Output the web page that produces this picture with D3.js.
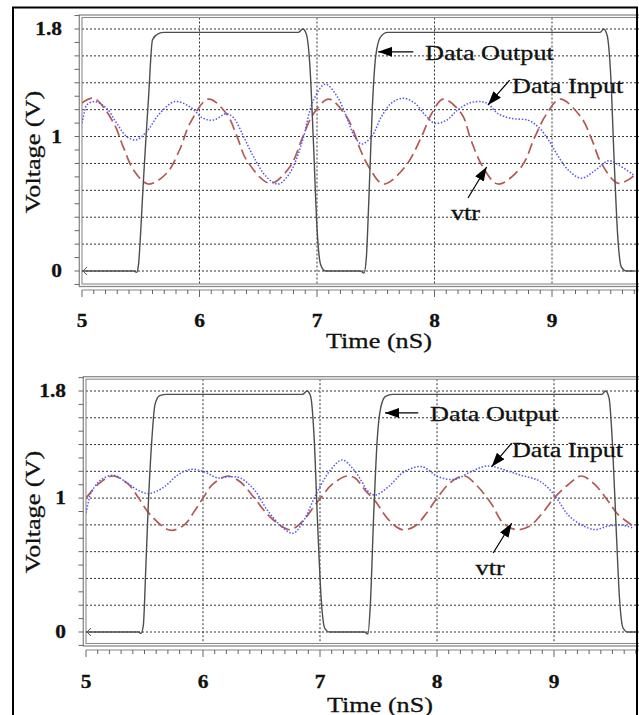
<!DOCTYPE html>
<html>
<head>
<meta charset="utf-8">
<script src="https://cdn.jsdelivr.net/npm/d3@7/dist/d3.min.js"></script>
<style>
  body { margin: 0; background: #fff; }
  svg { display: block; }
  text { font-family: "Liberation Serif", "Times New Roman", serif; fill: #111; stroke: #111; stroke-width: 0.3; }
</style>
</head>
<body>
<div id="chart"></div>
<script>
// tick labels
var timeTicks = [5, 6, 7, 8, 9];
var voltTicks = [0, 1, 1.8];
var timeDomain = [5, 9.7];
var voltDomain = [0, 1.8];

// series: [time (nS), voltage (V)]
// upper panel
var topOutput = [[5.00,0],[5.44,0],[5.465,-0.01],[5.48,0.04],[5.50,0.3],[5.52,0.63],[5.545,1.0],[5.565,1.27],[5.60,1.72],[5.65,1.765],[5.70,1.775],
  [6.84,1.775],[6.88,1.80],[6.91,1.76],[6.94,1.52],[6.97,0.95],[7.00,0.32],[7.03,0.05],[7.07,0],[7.37,0],[7.40,-0.015],
  [7.42,0.1],[7.44,0.5],[7.47,1.2],[7.50,1.6],[7.54,1.74],[7.60,1.775],[9.41,1.775],[9.44,1.80],[9.47,1.75],[9.50,1.45],
  [9.53,0.8],[9.56,0.25],[9.59,0.03],[9.63,0],[9.70,0]];
var topInput = [[5.00,1.10],[5.02,1.18],[5.04,1.235],[5.11,1.26],[5.21,1.21],[5.295,1.10],[5.38,1.0],[5.46,0.975],[5.55,1.036],
  [5.66,1.17],[5.79,1.26],[5.92,1.22],[6.03,1.136],[6.12,1.123],[6.23,1.17],[6.29,1.14],[6.375,1.0],[6.46,0.85],[6.57,0.70],
  [6.67,0.647],[6.77,0.73],[6.87,0.95],[6.97,1.27],[7.07,1.39],[7.17,1.30],[7.25,1.15],[7.32,1.0],[7.38,0.945],[7.465,1.0],
  [7.55,1.15],[7.635,1.25],[7.735,1.285],[7.83,1.25],[7.92,1.16],[8.00,1.10],[8.10,1.12],[8.20,1.20],[8.30,1.25],[8.40,1.26],
  [8.46,1.24],[8.54,1.17],[8.65,1.136],[8.80,1.12],[8.885,1.07],[8.97,0.975],[9.055,0.85],[9.14,0.75],[9.25,0.69],[9.37,0.75],
  [9.48,0.82],[9.565,0.79],[9.70,0.71]];
var topVtr = [[5.00,1.25],[5.10,1.285],[5.27,1.10],[5.35,0.925],[5.44,0.75],[5.565,0.647],[5.72,0.727],[5.83,0.90],[5.92,1.10],
  [6.075,1.278],[6.23,1.17],[6.32,1.0],[6.40,0.826],[6.60,0.652],[6.77,0.776],[6.88,1.0],[6.97,1.17],[7.10,1.278],[7.25,1.15],
  [7.32,1.02],[7.37,0.90],[7.44,0.776],[7.565,0.647],[7.75,0.776],[7.89,1.0],[7.975,1.17],[8.075,1.278],[8.23,1.17],[8.31,0.975],
  [8.41,0.776],[8.54,0.647],[8.74,0.776],[8.855,1.0],[8.955,1.17],[9.07,1.278],[9.25,1.14],[9.34,0.975],[9.42,0.80],[9.565,0.652],
  [9.70,0.71]];

// lower panel
var botOutput = [[5.00,0],[5.45,0],[5.47,-0.01],[5.49,0.05],[5.51,0.45],[5.53,0.9],[5.56,1.4],[5.59,1.7],[5.63,1.765],[5.69,1.775],
  [6.85,1.775],[6.89,1.80],[6.92,1.76],[6.95,1.45],[6.98,0.8],[7.01,0.25],[7.04,0.03],[7.08,0],[7.38,0],[7.41,-0.015],
  [7.43,0.2],[7.46,0.9],[7.49,1.45],[7.52,1.68],[7.56,1.76],[7.62,1.775],[9.41,1.775],[9.44,1.80],[9.47,1.75],[9.50,1.4],
  [9.53,0.8],[9.56,0.25],[9.59,0.03],[9.63,0],[9.70,0]];
var botInput = [[5.00,0.89],[5.02,0.97],[5.04,1.035],[5.125,1.135],[5.24,1.17],[5.355,1.11],[5.47,1.048],[5.55,1.035],[5.67,1.085],
  [5.78,1.17],[5.895,1.215],[6.01,1.197],[6.12,1.152],[6.235,1.16],[6.32,1.15],[6.44,1.06],[6.55,0.91],[6.67,0.79],[6.77,0.737],
  [6.865,0.84],[6.97,1.035],[7.09,1.21],[7.19,1.285],[7.29,1.21],[7.36,1.12],[7.40,1.06],[7.47,1.023],[7.585,1.085],[7.72,1.197],
  [7.87,1.235],[8.01,1.16],[8.15,1.14],[8.29,1.197],[8.43,1.24],[8.58,1.21],[8.72,1.17],[8.86,1.135],[8.94,1.085],[9.03,0.99],
  [9.12,0.875],[9.235,0.80],[9.35,0.765],[9.46,0.79],[9.57,0.80],[9.68,0.775]];
var botVtr = [[5.00,1.0],[5.10,1.10],[5.225,1.165],[5.355,1.11],[5.45,1.0],[5.55,0.875],[5.72,0.76],[5.84,0.80],[5.925,0.90],
  [6.00,1.0],[6.08,1.10],[6.21,1.165],[6.32,1.12],[6.44,1.0],[6.54,0.89],[6.67,0.79],[6.75,0.765],[6.865,0.84],[6.95,0.94],
  [7.005,1.0],[7.10,1.10],[7.23,1.165],[7.30,1.15],[7.385,1.06],[7.47,0.98],[7.585,0.84],[7.70,0.765],[7.81,0.79],[7.91,0.887],
  [8.00,1.0],[8.12,1.12],[8.235,1.165],[8.35,1.085],[8.47,0.95],[8.56,0.82],[8.675,0.765],[8.79,0.79],[8.90,0.887],[9.00,1.0],
  [9.12,1.10],[9.235,1.165],[9.35,1.10],[9.46,0.98],[9.55,0.875],[9.68,0.79]];

// annotations: label, text anchor point, arrow tail, arrow tip (data units)
var topNotes = [
  {label: "Data Output", at: [7.92, 1.57], from: [7.82, 1.63], to: [7.52, 1.63]},
  {label: "Data Input",  at: [8.66, 1.325], from: [8.64, 1.42], to: [8.455, 1.235]},
  {label: "vtr",         at: [8.14, 0.38], from: [8.285, 0.543], to: [8.444, 0.774]}
];
var botNotes = [
  {label: "Data Output", at: [7.94, 1.576], from: [7.84, 1.636], to: [7.556, 1.636]},
  {label: "Data Input",  at: [8.64, 1.31], from: [8.638, 1.41], to: [8.467, 1.235]},
  {label: "vtr",         at: [8.33, 0.426], from: [8.48, 0.59], to: [8.638, 0.812]}
];

var W = 639, H = 715;
var svg = d3.select("#chart").append("svg").attr("width", W).attr("height", H);

var defs = svg.append("defs");
defs.append("marker")
  .attr("id", "head")
  .attr("viewBox", "0 0 14 10")
  .attr("refX", 14).attr("refY", 5)
  .attr("markerWidth", 14).attr("markerHeight", 10)
  .attr("markerUnits", "userSpaceOnUse")
  .attr("orient", "auto")
  .append("path").attr("d", "M0,0L14,5L0,10z").attr("fill", "#000");

//text looks stretched sideways in the source, so widen it a bit
var stretch = 1.19;

function drawPanel(p) {
  var x = d3.scaleLinear().domain(timeDomain).range([p.x0, p.x0 + (timeDomain[1] - timeDomain[0]) * p.pxPerNs]);
  var y = d3.scaleLinear().domain(voltDomain).range([p.yZero, p.yMax]);
  var g = svg.append("g");

  defs.append("clipPath").attr("id", "clip-" + p.id)
    .append("rect").attr("x", p.x0).attr("y", p.frameTop + 2.5)
    .attr("width", W - p.x0).attr("height", p.frameBot - p.frameTop - 5);

  // grid
  var gridV = d3.range(0, 1.81, 0.2);
  g.selectAll(".hgrid").data(gridV).enter().append("line")
    .attr("x1", p.x0).attr("x2", W)
    .attr("y1", function (d) { return y(d); }).attr("y2", function (d) { return y(d); })
    .attr("stroke", "#333").attr("stroke-width", 1).attr("stroke-dasharray", "2,2");
  g.selectAll(".vgrid").data(timeTicks.slice(1)).enter().append("line")
    .attr("x1", function (d) { return x(d); }).attr("x2", function (d) { return x(d); })
    .attr("y1", p.frameTop + 2.5).attr("y2", p.frameBot - 2.5)
    .attr("stroke", "#333").attr("stroke-width", 1).attr("stroke-dasharray", "2,2");

  // double frame
  g.append("rect").attr("x", p.x0 - 2.7).attr("y", p.frameTop)
    .attr("width", W + 20).attr("height", p.frameBot - p.frameTop)
    .attr("fill", "none").attr("stroke", "#8a8a8a").attr("stroke-width", 1.3);
  g.append("rect").attr("x", p.x0).attr("y", p.frameTop + 2.5)
    .attr("width", W + 20).attr("height", p.frameBot - p.frameTop - 5)
    .attr("fill", "none").attr("stroke", "#8a8a8a").attr("stroke-width", 1.1);

  // y ticks every 0.1 V
  var yMinor = d3.range(-0.1, 1.95, 0.1);
  g.selectAll(".ytick").data(yMinor).enter().append("line")
    .attr("x1", p.x0 - 7.5).attr("x2", p.x0 - 2.7)
    .attr("y1", function (d) { return y(d); }).attr("y2", function (d) { return y(d); })
    .attr("stroke", "#666").attr("stroke-width", 1);

  // x axis line with ticks every 0.1 nS
  g.append("line").attr("x1", p.x0).attr("x2", W).attr("y1", p.axisY).attr("y2", p.axisY)
    .attr("stroke", "#888").attr("stroke-width", 1.2);
  var xMinor = d3.range(5, 9.75, 0.1);
  g.selectAll(".xtick").data(xMinor).enter().append("line")
    .attr("x1", function (d) { return x(d); }).attr("x2", function (d) { return x(d); })
    .attr("y1", p.axisY)
    .attr("y2", function (d) { return Math.abs(d - Math.round(d)) < 0.01 ? p.axisY + 7 : p.axisY + 4; })
    .attr("stroke", "#666").attr("stroke-width", 1);

  // tick labels
  g.selectAll(".xlab").data(timeTicks).enter().append("text")
    .attr("transform", function (d) { return "translate(" + x(d) + "," + p.tickLabelY + ") scale(" + stretch + ",1)"; })
    .attr("text-anchor", "middle").attr("font-size", 18).attr("font-weight", "bold")
    .text(function (d) { return d; });
  g.selectAll(".ylab").data(voltTicks).enter().append("text")
    .attr("transform", function (d) { return "translate(" + (p.x0 - 20) + "," + (y(d) + 6) + ") scale(" + stretch + ",1)"; })
    .attr("text-anchor", "end").attr("font-size", 18).attr("font-weight", "bold")
    .text(function (d) { return d; });

  // axis titles
  g.append("text")
    .attr("transform", "translate(" + p.titleX + "," + p.titleY + ") scale(" + stretch + ",1)")
    .attr("text-anchor", "middle").attr("font-size", 22).text("Time (nS)");
  g.append("text")
    .attr("transform", "translate(40," + p.vTitleY + ") rotate(-90) scale(" + stretch + ",1)")
    .attr("text-anchor", "middle").attr("font-size", 22).text("Voltage (V)");

  // curves
  var plot = g.append("g").attr("clip-path", "url(#clip-" + p.id + ")");
  var smooth = d3.line().x(function (d) { return x(d[0]); }).y(function (d) { return y(d[1]); })
    .curve(d3.curveCatmullRom.alpha(0.5));
  var step = d3.line().x(function (d) { return x(d[0]); }).y(function (d) { return y(d[1]); })
    .curve(d3.curveMonotoneX);

  plot.append("path").datum(p.vtr).attr("d", smooth)
    .attr("fill", "none").attr("stroke", "#b05a55").attr("stroke-width", 1.7).attr("stroke-dasharray", "11,5");
  plot.append("path").datum(p.input).attr("d", smooth)
    .attr("fill", "none").attr("stroke", "#5555f0").attr("stroke-width", 1.5).attr("stroke-dasharray", "1.5,1.7");
  plot.append("path").datum(p.output).attr("d", step)
    .attr("fill", "none").attr("stroke", "#4d4d4d").attr("stroke-width", 1.4);

  // start marker on the output trace
  var sx = x(p.output[0][0]), sy = y(p.output[0][1]);
  g.append("path").attr("d", "M" + (sx + 5) + "," + (sy - 4) + "L" + (sx + 1) + "," + sy + "L" + (sx + 5) + "," + (sy + 4))
    .attr("fill", "none").attr("stroke", "#555").attr("stroke-width", 1);

  // annotations
  p.notes.forEach(function (n) {
    g.append("line")
      .attr("x1", x(n.from[0])).attr("y1", y(n.from[1]))
      .attr("x2", x(n.to[0])).attr("y2", y(n.to[1]))
      .attr("stroke", "#000").attr("stroke-width", 1.2)
      .attr("marker-end", "url(#head)");
    g.append("text")
      .attr("transform", "translate(" + x(n.at[0]) + "," + y(n.at[1]) + ") scale(" + stretch + ",1)")
      .attr("font-size", 22).text(n.label);
  });
}

drawPanel({id: "top", output: topOutput, input: topInput, vtr: topVtr, notes: topNotes,
  x0: 82, pxPerNs: 117.5, yZero: 271, yMax: 29, frameTop: 15, frameBot: 286.5, axisY: 290,
  tickLabelY: 327, titleX: 379, titleY: 348, vTitleY: 152});
drawPanel({id: "bot", output: botOutput, input: botInput, vtr: botVtr, notes: botNotes,
  x0: 86, pxPerNs: 117, yZero: 632, yMax: 391, frameTop: 376.7, frameBot: 646, axisY: 650,
  tickLabelY: 688, titleX: 380, titleY: 712, vTitleY: 512});

// outer border
svg.append("rect").attr("x", 13).attr("y", 7.5).attr("width", 624).attr("height", 720)
  .attr("fill", "none").attr("stroke", "#000").attr("stroke-width", 2);
</script>
</body>
</html>
